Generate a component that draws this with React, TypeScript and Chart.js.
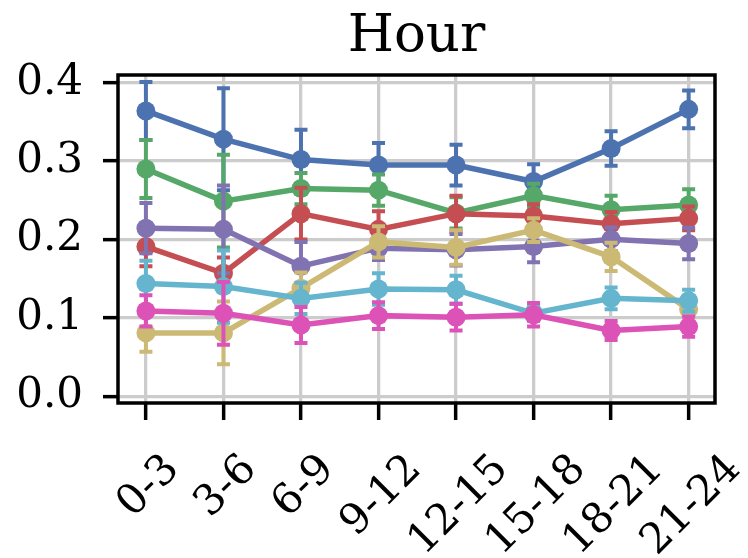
import React, { useEffect, useRef } from "react";
import { Chart, registerables } from "chart.js";

Chart.register(...registerables);

const categories = ["0-3", "3-6", "6-9", "9-12", "12-15", "15-18", "18-21", "21-24"];
const yTicks = [0.0, 0.1, 0.2, 0.3, 0.4];
const titleText = "Hour";

const blueVals = [0.364, 0.328, 0.302, 0.295, 0.295, 0.274, 0.316, 0.366];
const blueErr = [0.037, 0.065, 0.038, 0.028, 0.026, 0.022, 0.022, 0.024];
const greenVals = [0.290, 0.249, 0.265, 0.263, 0.234, 0.256, 0.238, 0.244];
const greenErr = [0.037, 0.059, 0.02, 0.02, 0.02, 0.015, 0.018, 0.02];
const redVals = [0.191, 0.157, 0.233, 0.213, 0.233, 0.230, 0.220, 0.227];
const redErr = [0.025, 0.02, 0.033, 0.023, 0.023, 0.015, 0.015, 0.015];
const purpleVals = [0.2145, 0.213, 0.166, 0.189, 0.187, 0.191, 0.2005, 0.195];
const purpleErr = [0.032, 0.056, 0.031, 0.015, 0.02, 0.02, 0.015, 0.02];
const yellowVals = [0.081, 0.081, 0.138, 0.197, 0.190, 0.212, 0.178, 0.111];
const yellowErr = [0.024, 0.04, 0.02, 0.02, 0.022, 0.015, 0.018, 0.01];
const cyanVals = [0.144, 0.140, 0.125, 0.137, 0.136, 0.106, 0.125, 0.122];
const cyanErr = [0.029, 0.046, 0.02, 0.02, 0.018, 0.01, 0.014, 0.014];
const pinkVals = [0.109, 0.106, 0.091, 0.103, 0.101, 0.104, 0.084, 0.089];
const pinkErr = [0.02, 0.04, 0.023, 0.017, 0.017, 0.015, 0.012, 0.013];

const seriesList = [
  { vals: blueVals, err: blueErr, color: "#4C72B0" },
  { vals: greenVals, err: greenErr, color: "#55A868" },
  { vals: redVals, err: redErr, color: "#C44E52" },
  { vals: purpleVals, err: purpleErr, color: "#8172B2" },
  { vals: yellowVals, err: yellowErr, color: "#CCB974" },
  { vals: cyanVals, err: cyanErr, color: "#64B5CD" },
  { vals: pinkVals, err: pinkErr, color: "#DD52B7" },
];

const FONT = '"DejaVu Serif", serif';

const errorBarPlugin = {
  id: "errorBars",
  beforeDatasetDraw(chart: any, args: any) {
    const ds = chart.data.datasets[args.index] as any;
    const errs: number[] = ds.errors;
    if (!errs) return;
    const xs = chart.scales.x;
    const ys = chart.scales.y;
    const ctx = chart.ctx;
    ctx.save();
    ctx.strokeStyle = ds.borderColor;
    ctx.lineWidth = 4;
    ds.data.forEach((p: any, i: number) => {
      const x = xs.getPixelForValue(p.x);
      const y1 = ys.getPixelForValue(p.y + errs[i]);
      const y2 = ys.getPixelForValue(p.y - errs[i]);
      ctx.beginPath();
      ctx.moveTo(x, y1);
      ctx.lineTo(x, y2);
      ctx.moveTo(x - 6.5, y1);
      ctx.lineTo(x + 6.5, y1);
      ctx.moveTo(x - 6.5, y2);
      ctx.lineTo(x + 6.5, y2);
      ctx.stroke();
    });
    ctx.restore();
  },
};

const framePlugin = {
  id: "frameAndLabels",
  afterDatasetsDraw(chart: any) {
    const { ctx, chartArea } = chart;
    ctx.save();
    ctx.strokeStyle = "#000";
    ctx.lineWidth = 3.5;
    ctx.strokeRect(chartArea.left, chartArea.top, chartArea.right - chartArea.left, chartArea.bottom - chartArea.top);
    ctx.restore();
  },
  afterDraw(chart: any) {
    const ctx = chart.ctx;
    const xs = chart.scales.x;
    ctx.save();
    ctx.font = `42px ${FONT}`;
    ctx.fillStyle = "#000";
    ctx.textAlign = "center";
    ctx.textBaseline = "alphabetic";
    const top = chart.chartArea.bottom + 46;
    categories.forEach((lab, i) => {
      const x = xs.getPixelForValue(i);
      const w = ctx.measureText(lab).width;
      const half = ((w + 30.7) * Math.SQRT1_2) / 2;
      ctx.save();
      ctx.translate(x, top + half);
      ctx.rotate(-Math.PI / 4);
      ctx.fillText(lab, 0, 15.3);
      ctx.restore();
    });
    ctx.restore();
  },
};

export default function App() {
  const ref = useRef<HTMLCanvasElement | null>(null);
  useEffect(() => {
    document.body.style.margin = "0";
    const canvas = ref.current!;
    const datasets = seriesList.map((s, k) => ({
      data: s.vals.map((v, i) => ({ x: i, y: v })),
      errors: s.err,
      borderColor: s.color,
      backgroundColor: s.color,
      pointBackgroundColor: s.color,
      pointBorderColor: s.color,
      borderWidth: 5.5,
      pointRadius: 9.5,
      pointBorderWidth: 0,
      pointHoverRadius: 9.5,
      tension: 0,
      order: seriesList.length - k,
    }));
    const chart = new Chart(canvas, {
      type: "line",
      data: { datasets: datasets as any },
      plugins: [errorBarPlugin, framePlugin],
      options: {
        animation: false,
        responsive: false,
        devicePixelRatio: 1,
        layout: { padding: { left: 0, right: 33, top: 0, bottom: 0 } },
        plugins: {
          legend: { display: false },
          tooltip: { enabled: false },
          title: {
            display: true,
            fullSize: false,
            text: titleText,
            color: "#000",
            font: { family: FONT, size: 53, weight: "normal", lineHeight: 1.2 },
            padding: { top: 5, bottom: 6.4 },
          },
        },
        scales: {
          x: {
            type: "linear",
            min: -0.36,
            max: 7.34,
            afterBuildTicks: (scale: any) => {
              scale.ticks = categories.map((_, i) => ({ value: i }));
            },
            afterFit: (scale: any) => {
              scale.height = 155;
            },
            ticks: { display: false },
            grid: {
              color: "#cccccc",
              lineWidth: 3.3,
              drawTicks: true,
              tickLength: 17,
              tickColor: "#000",
              tickWidth: 3.5,
            },
            border: { display: false },
          },
          y: {
            type: "linear",
            min: -0.0084,
            max: 0.4098,
            afterBuildTicks: (scale: any) => {
              scale.ticks = yTicks.map((v) => ({ value: v }));
            },
            afterFit: (scale: any) => {
              scale.width = 118;
            },
            ticks: {
              color: "#000",
              font: { family: FONT, size: 42 },
              padding: 20,
              callback: (v: any) => Number(v).toFixed(1),
            },
            grid: {
              color: "#cccccc",
              lineWidth: 3.3,
              drawTicks: true,
              tickLength: 15,
              tickColor: "#000",
              tickWidth: 3.5,
            },
            border: { display: false },
          },
        },
      } as any,
    });
    return () => chart.destroy();
  }, []);
  return <canvas ref={ref} width={748} height={558} style={{ display: "block" }} />;
}
